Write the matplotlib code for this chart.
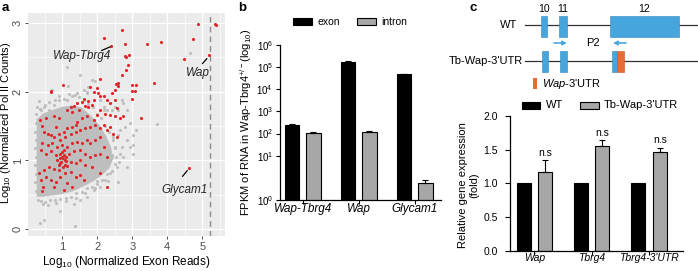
import numpy as np
import matplotlib
matplotlib.use('Agg')
import matplotlib.pyplot as plt
from matplotlib.patches import Rectangle

plt.rcParams['font.family'] = ['Liberation Sans', 'DejaVu Sans']
plt.rcParams['mathtext.fontset'] = 'custom'
plt.rcParams['mathtext.rm'] = 'Liberation Sans'
plt.rcParams['mathtext.it'] = 'Liberation Sans:italic'

# ---------------- Panel a data ----------------
red_x = [2.20, 2.38, 2.72, 2.80, 2.78, 2.82, 2.92, 2.89, 2.82, 3.41, 3.81, 4.88, 4.75, 4.49, 5.19, 5.36, 5.39,
         2.08, 2.72, 2.54, 2.98, 3.10, 3.62, 3.08, 2.98, 2.98, 3.25, 1.03, 0.69, 0.69, 0.37, 0.42, 2.29, 4.62,
         1.80, 1.98, 1.92, 2.01, 2.08, 1.90, 1.74, 1.61, 1.55, 1.42, 1.33, 1.24, 1.14, 1.28, 1.47, 1.66, 1.75,
         1.85, 2.18, 2.27, 2.37, 2.42, 2.51, 2.58, 2.60, 2.51, 2.56, 2.65, 2.75, 2.51, 2.37, 2.23, 2.08, 1.99,
         1.90, 1.71, 1.57, 1.42, 1.38, 1.28, 1.14, 1.05, 0.91, 0.76, 0.67, 0.58, 0.48, 0.53, 0.76, 0.91, 0.81,
         0.95, 1.09, 1.24, 1.38, 1.52, 1.66, 1.80, 1.94, 2.08, 2.18, 2.27, 2.37, 2.46, 2.56, 2.08, 1.94, 1.80,
         1.71, 1.57, 1.42, 1.28, 1.14, 1.00, 0.86, 0.72, 0.58, 0.43, 0.39, 0.53, 0.67, 0.81, 0.95, 1.05, 1.19,
         1.33, 1.52, 1.66, 1.80, 1.94, 2.08, 2.18, 2.27, 0.86, 0.95, 1.09, 1.24, 1.38, 1.52, 1.66, 0.91, 0.76,
         0.62, 0.48, 0.34, 0.39, 0.53, 0.67, 0.81, 0.95, 1.09, 1.24, 1.38, 1.52, 0.41, 0.46, 1.14, 1.28, 0.76,
         1.05, 2.08, 1.61, 1.85, 0.98, 1.03, 0.96, 1.08, 1.02, 0.93, 1.12, 1.05, 0.99, 1.10, 0.90, 1.15]
red_y = [2.78, 2.66, 2.89, 2.70, 2.52, 2.50, 2.53, 2.39, 2.32, 2.70, 2.72, 2.99, 2.76, 2.48, 2.54, 2.98, 2.97,
         2.18, 2.24, 2.11, 2.09, 2.10, 2.12, 2.01, 2.01, 1.90, 1.61, 2.09, 2.01, 1.99, 1.59, 1.50, 0.61, 0.89,
         2.07, 2.06, 2.00, 1.98, 1.93, 1.88, 1.87, 1.90, 1.85, 1.83, 1.79, 1.78, 1.73, 1.71, 1.73, 1.79, 1.78,
         1.81, 1.93, 1.88, 1.83, 1.98, 2.03, 2.12, 2.08, 1.88, 1.76, 1.61, 1.64, 1.64, 1.66, 1.68, 1.73, 1.66,
         1.59, 1.64, 1.61, 1.56, 1.51, 1.49, 1.47, 1.42, 1.39, 1.34, 1.37, 1.39, 1.42, 1.61, 1.64, 1.61, 1.49,
         1.30, 1.34, 1.39, 1.42, 1.44, 1.47, 1.49, 1.51, 1.47, 1.51, 1.44, 1.49, 1.39, 1.34, 1.34, 1.30, 1.25,
         1.30, 1.25, 1.27, 1.25, 1.20, 1.22, 1.20, 1.25, 1.22, 1.25, 1.15, 1.10, 1.13, 1.08, 1.10, 1.15, 1.10,
         1.13, 1.15, 1.10, 1.05, 1.08, 1.10, 1.20, 1.05, 1.00, 0.96, 1.00, 0.98, 0.96, 1.00, 0.93, 0.86, 0.88,
         0.91, 0.86, 0.81, 0.71, 0.76, 0.71, 0.69, 0.76, 0.81, 0.83, 0.76, 0.79, 0.56, 0.62, 0.67, 0.62, 0.62,
         0.57, 0.81, 0.71, 0.91, 1.05, 1.03, 0.98, 0.94, 0.90, 1.03, 1.05, 1.08, 1.12, 0.99, 0.93, 0.92]

# scattered grey genes outside the saturated core
gray_x = [1.13, 1.52, 1.17, 0.39, 0.48, 0.62, 0.76, 0.91, 1.14, 1.28, 1.42, 1.61, 1.75, 1.85, 1.94, 1.71, 2.08,
          2.18, 2.27, 2.42, 2.51, 2.60, 2.70, 2.75, 2.84, 2.65, 2.79, 2.93, 3.03, 3.12, 2.84, 2.93, 3.03, 2.75,
          2.84, 2.51, 2.65, 2.42, 2.56, 2.37, 2.23, 2.08, 1.90, 1.71, 1.52, 1.33, 0.93, 1.36, 0.36, 0.47, 3.70,
          4.65, 2.45, 2.59, 3.03, 2.42, 2.60, 2.00,
          0.24, 0.23, 0.25, 0.22, 0.24, 0.23, 0.25, 0.22, 0.24, 0.26,
          0.35, 0.50, 0.62, 0.78, 0.90, 1.05, 1.18, 1.35, 1.48, 1.62, 1.75, 1.88, 2.00, 2.12, 2.22, 2.35, 2.45,
          2.52, 2.55, 2.50,
          2.42, 2.28, 2.15, 2.00, 1.85, 1.70, 1.55, 1.40, 1.25, 1.10, 0.95, 0.80, 0.65, 0.50, 0.38, 0.30,
          0.44, 0.58, 0.83, 1.10, 1.40, 1.65, 1.95, 2.30, 2.62, 2.70, 2.20, 1.72, 0.34, 0.29, 0.71]
gray_y = [2.36, 2.24, 2.08, 1.73, 1.78, 1.73, 1.81, 1.88, 1.88, 1.93, 1.98, 2.02, 2.07, 2.17, 2.15, 1.98, 1.88,
          1.78, 1.73, 1.73, 1.78, 1.73, 1.88, 1.83, 1.73, 1.44, 1.49, 1.54, 1.37, 1.44, 1.30, 1.20, 1.10, 1.05,
          0.91, 1.20, 1.10, 1.05, 0.91, 0.81, 0.71, 0.62, 0.57, 0.47, 0.42, 0.37, 0.27, 0.04, 0.09, 0.14, 1.53,
          2.56, 1.34, 1.37, 1.22, 1.08, 0.69, 0.66,
          0.55, 0.68, 0.80, 0.93, 1.05, 1.18, 1.30, 1.42, 1.55, 1.68,
          1.75, 1.80, 1.85, 1.88, 1.93, 1.90, 1.96, 1.95, 1.92, 1.88, 1.82, 1.78, 1.68, 1.62, 1.50, 1.42, 1.30,
          1.18, 1.05, 0.95,
          0.84, 0.80, 0.72, 0.70, 0.62, 0.60, 0.54, 0.52, 0.47, 0.46, 0.44, 0.43, 0.42, 0.40, 0.41, 0.43,
          0.36, 0.35, 0.38, 0.41, 0.46, 0.52, 0.60, 0.70, 0.98, 1.20, 1.74, 2.00, 1.86, 1.78, 2.02]

# saturated region of the grey point cloud
core_x = [0.27, 0.27, 0.45, 0.70, 1.00, 1.30, 1.55, 1.80, 2.05, 2.25, 2.40, 2.45, 2.35, 2.15, 1.90, 1.60,
          1.30, 1.00, 0.70, 0.45]
core_y = [0.47, 1.60, 1.68, 1.73, 1.78, 1.80, 1.77, 1.66, 1.52, 1.36, 1.18, 1.02, 0.89, 0.79, 0.70, 0.62,
          0.55, 0.51, 0.49, 0.47]

annot_names = ['Wap-Tbrg4', 'Wap', 'Glycam1']
annot_text_xy = [(1.56, 2.52), (4.87, 2.27), (4.50, 0.57)]
annot_line = [((2.13, 2.60), (2.36, 2.65)), ((5.01, 2.41), (5.13, 2.48)), ((4.44, 0.77), (4.57, 0.85))]
cutoff_x = 5.23

# ---------------- Panel b data ----------------
b_genes = ['Wap-Tbrg4', 'Wap', 'Glycam1']
b_exon = [250, 1.7e5, 4.7e4]
b_exon_err = [25, 2.5e4, 4.0e3]
b_intron = [105, 112, 2.4]
b_intron_err = [12, 15, 0.4]

# ---------------- Panel c data ----------------
c_genes = ['Wap', 'Tbrg4', "Tbrg4-3'UTR"]
c_wt = [1.0, 1.0, 1.0]
c_tb = [1.17, 1.55, 1.47]
c_tb_err = [0.17, 0.09, 0.06]

exon_num = ['10', '11', '12']
wt_exon_start = [71, 89, 140]
wt_exon_end = [77, 96.7, 209]
tb_exon_start = [72, 90, 141.7]
tb_exon_end = [78, 97, 146.7]
tb_utr = (146.7, 154)

fig = plt.figure(figsize=(6.98, 2.71), dpi=100)

# ================= Panel a =================
ax = fig.add_axes([28.3 / 698, 1 - 236 / 271, (225 - 28.3) / 698, (236 - 13.3) / 271])
ax.set_facecolor('#EBEBEB')
ax.set_xlim(0.03, 5.65)
ax.set_ylim(-0.10, 3.14)
ax.set_xticks([1, 2, 3, 4, 5])
ax.set_yticks([0, 1, 2, 3])
ax.set_xticks([0.5, 1.5, 2.5, 3.5, 4.5, 5.5], minor=True)
ax.set_yticks([0.5, 1.5, 2.5], minor=True)
ax.grid(True, which='major', color='white', lw=0.9, zorder=0)
ax.grid(True, which='minor', color='white', lw=0.45, zorder=0)
ax.set_axisbelow(True)
for s in ax.spines.values():
    s.set_visible(False)
ax.tick_params(which='major', length=2.5, width=0.6, color='#333333', labelcolor='#4D4D4D', labelsize=8, pad=1.5)
ax.tick_params(which='minor', length=0)
for lab in ax.get_yticklabels():
    lab.set_rotation(90)
    lab.set_va('center')
ax.fill(core_x, core_y, color='#BEBEBE', lw=0, zorder=2)
ax.scatter(gray_x, gray_y, s=5, c='#BEBEBE', lw=0, zorder=2)
ax.scatter(red_x, red_y, s=5, c='#E0262B', lw=0, zorder=3)
ax.axvline(cutoff_x, color='#8C8C8C', lw=1.0, ls=(0, (4, 3)), zorder=2)
for name, (tx, ty), ((x0, y0), (x1, y1)) in zip(annot_names, annot_text_xy, annot_line):
    ax.text(tx, ty, name, style='italic', fontsize=8.5, color='#262626', ha='center', va='center', zorder=4)
    ax.plot([x0, x1], [y0, y1], color='black', lw=0.9, zorder=4)
ax.set_xlabel('Log$_{10}$ (Normalized Exon Reads)', fontsize=8.5, labelpad=2)
ax.set_ylabel('Log$_{10}$ (Normalized Pol II Counts)', fontsize=8)
ax.yaxis.set_label_coords((13.5 - 28.3) / (225 - 28.3), 0.51)

# ================= Panel b =================
def fwd(v):
    v = np.clip(np.asarray(v, dtype=float), 1e-3, None)
    lv = np.log10(v)
    return np.where(lv >= 1, lv + 1, 2 * lv)

def inv(p):
    p = np.asarray(p, dtype=float)
    return np.where(p >= 2, 10 ** (p - 1), 10 ** (p / 2))

axb = fig.add_axes([280 / 698, 1 - 200 / 271, (441 - 280) / 698, (200 - 45) / 271])
axb.set_yscale('function', functions=(fwd, inv))
axb.set_ylim(1, 1e6)
xb = np.arange(len(b_genes))
bw = 0.26
off = 0.19
axb.bar(xb - off, b_exon, width=bw, color='black', edgecolor='black', lw=0.8, zorder=2)
axb.bar(xb + off, b_intron, width=bw, color='#A6A6A6', edgecolor='black', lw=0.8, zorder=2)
axb.errorbar(xb - off, b_exon, yerr=[np.zeros(3), b_exon_err], fmt='none', ecolor='black', elinewidth=0.8, capsize=2.2, capthick=0.8, zorder=3)
axb.errorbar(xb + off, b_intron, yerr=[np.zeros(3), b_intron_err], fmt='none', ecolor='black', elinewidth=0.8, capsize=2.2, capthick=0.8, zorder=3)
axb.set_xlim(-0.405, 2.47)
axb.set_xticks(xb)
axb.set_xticklabels(b_genes, style='italic', fontsize=8.5)
yt = [1, 10, 100, 1e3, 1e4, 1e5, 1e6]
axb.set_yticks(yt)
axb.set_yticklabels(['$10^{%d}$' % i for i in range(7)], fontsize=7)
axb.yaxis.set_minor_locator(matplotlib.ticker.NullLocator())
axb.spines['top'].set_visible(False)
axb.spines['right'].set_visible(False)
axb.spines['left'].set_linewidth(0.9)
axb.spines['bottom'].set_linewidth(0.9)
axb.tick_params(axis='y', length=3, width=0.8, pad=2)
axb.tick_params(axis='x', length=3, width=0.8, pad=-1)
axb.set_ylabel('FPKM of RNA in Wap-Tbrg4$^{+/-}$(log$_{10}$)', fontsize=8, labelpad=2)

# ================= Panel c bars =================
axc = fig.add_axes([510 / 698, 1 - 250.7 / 271, (683 - 510) / 698, (250.7 - 116) / 271])
xc = np.arange(len(c_genes))
cw = 0.244
coff = 0.186
axc.bar(xc - coff, c_wt, width=cw, color='black', edgecolor='black', lw=0.8, zorder=2)
axc.bar(xc + coff, c_tb, width=cw, color='#A6A6A6', edgecolor='black', lw=0.8, zorder=2)
axc.errorbar(xc + coff, c_tb, yerr=[np.zeros(3), c_tb_err], fmt='none', ecolor='black', elinewidth=0.8, capsize=2.2, capthick=0.8, zorder=3)
for xi, v, e in zip(xc, c_tb, c_tb_err):
    axc.text(xi + coff, v + e + 0.04, 'n.s', ha='center', va='bottom', fontsize=7.5)
axc.set_xlim(-0.424, 2.59)
axc.set_ylim(0, 2.0)
axc.set_yticks([0, 0.5, 1.0, 1.5, 2.0])
axc.set_yticklabels(['0.0', '0.5', '1.0', '1.5', '2.0'], fontsize=7.5)
axc.set_xticks(xc)
axc.set_xticklabels(c_genes, style='italic', fontsize=7.5)
axc.spines['top'].set_visible(False)
axc.spines['right'].set_visible(False)
axc.spines['left'].set_linewidth(0.9)
axc.spines['bottom'].set_linewidth(0.9)
axc.tick_params(axis='y', length=3.5, width=0.8, pad=5)
axc.tick_params(axis='x', length=3, width=0.8, pad=-1)
fig.text(468.5 / 698, 1 - 185 / 271, 'Relative gene expression\n(fold)', rotation=90, ha='center', va='center',
         fontsize=8, multialignment='center', linespacing=1.1)

# ================= Overlay (labels, legends, gene diagram) =================
ov = fig.add_axes([0, 0, 1, 1], facecolor='none')
ov.set_xlim(0, 698)
ov.set_ylim(271, 0)
ov.axis('off')
ov.text(2, 8, 'a', fontsize=9.5, fontweight='bold', va='center')
ov.text(238, 8, 'b', fontsize=9.5, fontweight='bold', va='center')
ov.text(470, 8, 'c', fontsize=9.5, fontweight='bold', va='center')

# panel b legend
ov.add_patch(Rectangle((293.3, 18.3), 18.4, 6.7, facecolor='black', edgecolor='black', lw=0.8))
ov.text(317.3, 21.6, 'exon', fontsize=7.5, va='center')
ov.add_patch(Rectangle((356.7, 18.3), 19.3, 6.7, facecolor='#A6A6A6', edgecolor='black', lw=0.8))
ov.text(381.7, 21.6, 'intron', fontsize=7.5, va='center')

# panel c gene diagram (x offset 470)
X0 = 470
blue = '#45A5DC'
orange = '#E86A35'
ov.plot([X0 + 55, 698], [25, 25], color='#333333', lw=0.9)
ov.plot([X0 + 55, 698], [61, 61], color='#333333', lw=0.9)
for s, e, n in zip(wt_exon_start, wt_exon_end, exon_num):
    ov.add_patch(Rectangle((X0 + s, 15.7), e - s, 21, facecolor=blue, edgecolor='#2E86BF', lw=0.4, zorder=3))
    ov.text(X0 + (s + e) / 2, 9.5, n, fontsize=7.5, ha='center', va='center')
for s, e in zip(tb_exon_start, tb_exon_end):
    ov.add_patch(Rectangle((X0 + s, 50.5), e - s, 21, facecolor=blue, edgecolor='#2E86BF', lw=0.4, zorder=3))
ov.add_patch(Rectangle((X0 + tb_utr[0], 50.5), tb_utr[1] - tb_utr[0], 21, facecolor=orange, edgecolor='#C9552A', lw=0.4, zorder=3))
ov.text(X0 + 47, 25, 'WT', fontsize=8, ha='right', va='center')
ov.text(X0 + 53, 61, "Tb-Wap-3'UTR", fontsize=8, ha='right', va='center')
ov.annotate('', xy=(X0 + 97, 43), xytext=(X0 + 84, 43),
            arrowprops=dict(arrowstyle='-|>', color='#4AA8E0', lw=1.2, mutation_scale=6, shrinkA=0, shrinkB=0))
ov.annotate('', xy=(X0 + 143, 43), xytext=(X0 + 156, 43),
            arrowprops=dict(arrowstyle='-|>', color='#4AA8E0', lw=1.2, mutation_scale=6, shrinkA=0, shrinkB=0))
ov.text(X0 + 123, 43, 'P2', fontsize=8, ha='center', va='center')
ov.add_patch(Rectangle((X0 + 63, 77.5), 3.5, 11, facecolor=orange, edgecolor='none'))
ov.text(X0 + 72, 84, '$\\it{Wap}$-3\'UTR', fontsize=8, va='center')

# panel c bar legend
ov.add_patch(Rectangle((521.7, 101.5), 18.3, 7, facecolor='black', edgecolor='black', lw=0.8))
ov.text(546, 105, 'WT', fontsize=8, va='center')
ov.add_patch(Rectangle((580, 101.5), 18.5, 7, facecolor='#A6A6A6', edgecolor='black', lw=0.8))
ov.text(603.3, 105, "Tb-Wap-3'UTR", fontsize=8, va='center')

fig.savefig('out.png', dpi=100)
